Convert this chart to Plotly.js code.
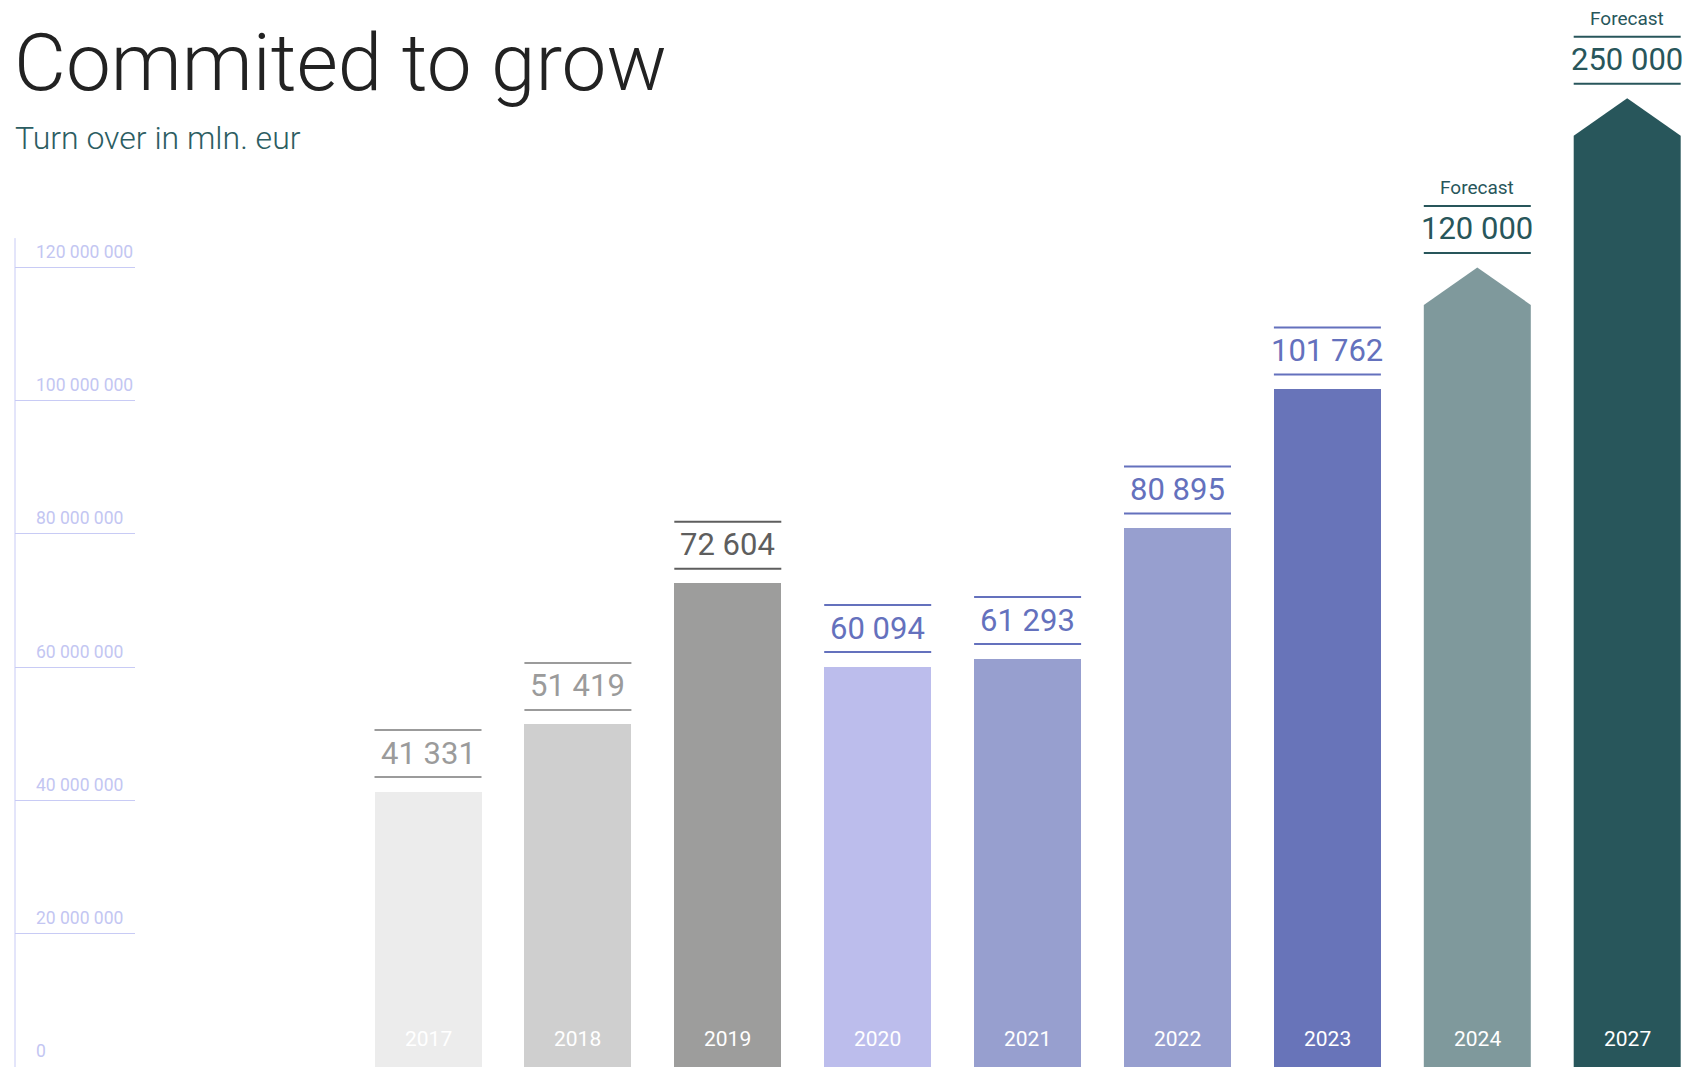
<!DOCTYPE html>
<html>
<head>
<meta charset="utf-8">
<script src="https://cdn.plot.ly/plotly-3.0.1.min.js"></script>
<style>
  html, body { margin: 0; padding: 0; background: #ffffff; }
  #chart { width: 1694px; height: 1067px; }
</style>
</head>
<body>
<div id="chart"></div>
<script>
// ---------------- data ----------------
const years = ['2017', '2018', '2019', '2020', '2021', '2022', '2023', '2024', '2027'];
// turnover, as labelled (thousand eur)
const turnover = [41331, 51419, 72604, 60094, 61293, 80895, 101762, 120000, 250000];
const isForecast = [false, false, false, false, false, false, false, true, true];
const forecastLabel = 'Forecast';
const tickVals = [0, 20000000, 40000000, 60000000, 80000000, 100000000, 120000000];
const tickText = ['0', '20 000 000', '40 000 000', '60 000 000', '80 000 000', '100 000 000', '120 000 000'];
const titleText = 'Commited to grow';
const subtitleText = 'Turn over in mln. eur';

// ---------------- styles ----------------
const UNIT = 1000;                 // labels are in thousands of the axis unit
const barColors = ['#ececec', '#cfcfcf', '#9d9d9c', '#bcbdec', '#979fcf', '#979fcf', '#6874b9', '#7f999c', '#28565b'];
const labelColors = ['#9b9b9b', '#9b9b9b', '#5e5e5e', '#6471bd', '#6471bd', '#6471bd', '#6471bd', '#28565b', '#28565b'];
const brokenIndex = 8;             // 2027 bar is drawn on a compressed (broken) scale
const FONT = 'Roboto, "Liberation Sans", Arial, sans-serif';
const W = 1694, H = 1067;
const marginL = 15;
const plotH = H;
const px20M = 133.26;
const yMax = 20000000 * plotH / px20M;
const y2Max = 250000000 * plotH / (plotH - 98.3);
const axisTopVal = 124.4e6;
const slot = 149.9, firstCenter = 428;
const xMin = -(firstCenter - marginL) / slot;
const xMax = xMin + (W - marginL) / slot;
const barW = 107 / slot;
const tipPx = 37.5;
const lineColor = '#c8cbf5';

function fmt(v) { return String(v).replace(/\B(?=(\d{3})+(?!\d))/g, ' '); }

const xs = years.map((_, i) => i);
const traces = [];
const annotations = [];
const shapes = [];

// regular bars
const regIdx = xs.filter(i => !isForecast[i]);
traces.push({
  type: 'bar',
  x: regIdx.map(i => xs[i]),
  y: regIdx.map(i => turnover[i] * UNIT),
  width: barW,
  marker: { color: regIdx.map(i => barColors[i]), line: { width: 0 } },
  hoverinfo: 'skip',
  yaxis: 'y'
});

// forecast arrows
xs.filter(i => isForecast[i]).forEach(i => {
  const onY2 = i === brokenIndex;
  const v = turnover[i] * UNIT;
  const tip = tipPx * (onY2 ? y2Max : yMax) / plotH;
  const hw = barW / 2;
  traces.push({
    type: 'scatter',
    mode: 'lines',
    x: [xs[i] - hw, xs[i] - hw, xs[i], xs[i] + hw, xs[i] + hw, xs[i] - hw],
    y: [0, v - tip, v, v - tip, 0, 0],
    fill: 'toself',
    fillcolor: barColors[i],
    line: { width: 0, color: barColors[i] },
    hoverinfo: 'skip',
    yaxis: onY2 ? 'y2' : 'y'
  });
});

// value labels, rules, forecast tags and year labels
xs.forEach(i => {
  const yref = i === brokenIndex ? 'y2' : 'y';
  const v = turnover[i] * UNIT;
  const hw = barW / 2;
  annotations.push({
    x: xs[i], xref: 'x', y: v, yref: yref, yshift: 38.5,
    text: fmt(turnover[i]), showarrow: false, xanchor: 'center', yanchor: 'middle',
    font: { family: FONT, size: 31, color: labelColors[i] }
  });
  [14.5, 61.5].forEach(off => {
    shapes.push({
      type: 'line', xref: 'x', x0: xs[i] - hw, x1: xs[i] + hw,
      yref: yref, ysizemode: 'pixel', yanchor: v, y0: off, y1: off,
      line: { color: labelColors[i], width: 2 }
    });
  });
  if (isForecast[i]) {
    annotations.push({
      x: xs[i], xref: 'x', y: v, yref: yref, yshift: 80,
      text: forecastLabel, showarrow: false, xanchor: 'center', yanchor: 'middle',
      font: { family: FONT, size: 19, color: labelColors[i] }
    });
  }
  annotations.push({
    x: xs[i], xref: 'x', y: 0, yref: 'paper', yshift: 28,
    text: years[i], showarrow: false, xanchor: 'center', yanchor: 'middle',
    font: { family: FONT, size: 21, color: '#ffffff' }
  });
});

// subtitle
annotations.push({
  x: 0, xref: 'paper', xshift: -2, y: 1 - 138 / plotH, yref: 'paper',
  text: subtitleText, showarrow: false, xanchor: 'left', yanchor: 'middle',
  font: { family: FONT, size: 32, color: '#2c5d62', weight: 300 }
});

// y axis line (stops above the top tick)
shapes.push({
  type: 'line', xref: 'paper', x0: 0, x1: 0, yref: 'y', y0: 0, y1: axisTopVal,
  line: { color: lineColor, width: 1 }
});

const layout = {
  width: W, height: H,
  margin: { l: marginL, r: 0, t: 0, b: 0, pad: 0 },
  paper_bgcolor: '#ffffff', plot_bgcolor: '#ffffff',
  showlegend: false,
  title: {
    text: titleText, x: 14 / W, xref: 'container', xanchor: 'left',
    y: 1 - 62 / H, yref: 'container', yanchor: 'middle',
    font: { family: FONT, size: 80, color: '#222222', weight: 300 }
  },
  xaxis: { range: [xMin, xMax], visible: false, fixedrange: true },
  yaxis: {
    range: [0, yMax], showgrid: false, zeroline: false, showline: false,
    tickmode: 'array', tickvals: tickVals, ticktext: tickText,
    ticks: 'inside', ticklen: 120, tickwidth: 1, tickcolor: lineColor,
    ticklabelposition: 'inside top', ticklabelstandoff: 18, ticklabelshift: -3,
    tickfont: { family: FONT, size: 17.5, color: '#c3c6f2' },
    fixedrange: true
  },
  yaxis2: { range: [0, y2Max], overlaying: 'y', visible: false, fixedrange: true },
  annotations: annotations,
  shapes: shapes,
  bargap: 0
};

Plotly.newPlot('chart', traces, layout, { staticPlot: true, displayModeBar: false });
</script>
</body>
</html>
